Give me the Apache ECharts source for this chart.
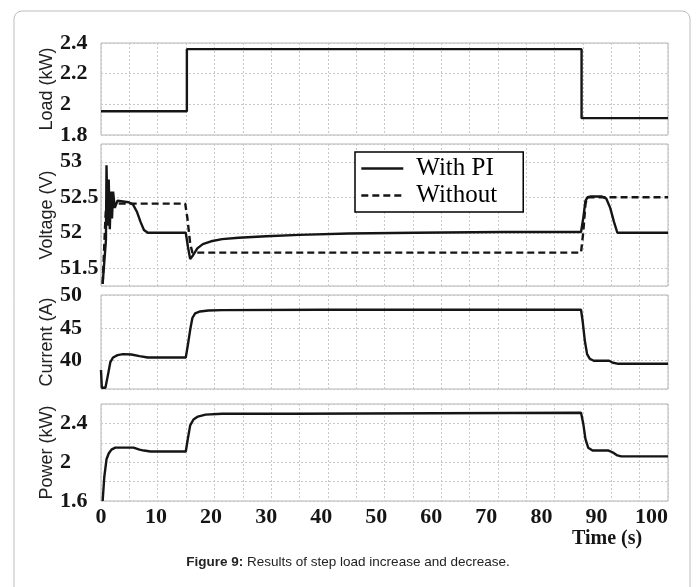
<!DOCTYPE html>
<html>
<head>
<meta charset="utf-8">
<script src="https://cdn.jsdelivr.net/npm/echarts@6/dist/echarts.min.js"></script>
<style>
  html, body { margin: 0; padding: 0; background: #fff; }
  #chart { width: 696px; height: 587px; }
</style>
</head>
<body>
<div id="chart"></div>
<script>
// time axis
const xTickLabels = [0, 10, 20, 30, 40, 50, 60, 70, 80, 90, 100];
// power axis shows only these
const powTickLabels = [1.6, 2, 2.4];

// load (kW), step changes
const tLoad = [0, 15.6, 87.3, 103];
const load = [1.955, 2.36, 1.91, 1.91];

// voltage (V), with PI
const tVWith = [0.3, 0.9, 1.0, 1.2, 1.4, 1.6, 1.8, 2.0, 2.2, 2.5, 3, 4, 5, 5.8, 6.5, 7.2, 7.8, 8.5, 15.4, 15.8, 16.2, 16.7, 17.5, 18.5, 20, 22, 25, 30, 36, 45, 57, 73, 87.2, 87.6, 88.0, 88.4, 89, 91, 91.8, 92.5, 93.2, 93.8, 103];
const vWith = [51.28, 51.9, 52.95, 52.1, 52.75, 52.05, 52.58, 52.2, 52.58, 52.35, 52.45, 52.44, 52.43, 52.4, 52.3, 52.15, 52.04, 52.0, 52.0, 51.8, 51.63, 51.68, 51.78, 51.84, 51.88, 51.91, 51.93, 51.95, 51.97, 51.99, 52.0, 52.01, 52.01, 52.2, 52.45, 52.5, 52.51, 52.51, 52.48, 52.35, 52.15, 52.0, 52.0];

// voltage (V), without PI
const tVWithout = [0.3, 0.8, 1.0, 1.5, 2, 15.3, 15.7, 16.2, 16.6, 87.2, 87.6, 88.0, 88.3, 103];
const vWithout = [51.28, 52.2, 52.45, 52.38, 52.41, 52.41, 52.2, 51.85, 51.72, 51.72, 52.0, 52.4, 52.5, 52.5];

// current (A)
const tCur = [0, 0.15, 0.8, 1.3, 1.7, 2.2, 3, 4, 5.5, 7, 8.5, 15.4, 15.8, 16.2, 16.6, 17.1, 18, 19.5, 22, 40, 87.2, 87.5, 87.9, 88.3, 88.8, 89.5, 92.3, 93, 93.8, 103];
const cur = [38.6, 35.9, 35.9, 38, 39.8, 40.5, 40.85, 41.0, 40.95, 40.7, 40.5, 40.5, 42.5, 44.7, 46.5, 47.2, 47.5, 47.65, 47.7, 47.75, 47.75, 46, 43, 41, 40.3, 40.0, 40.0, 39.7, 39.55, 39.55];

// power (kW)
const tPow = [0.3, 0.6, 1.0, 1.4, 1.9, 2.6, 4, 5.9, 7, 7.8, 9, 15.4, 15.8, 16.2, 16.8, 17.6, 19, 22, 35, 87.2, 87.6, 88.0, 88.5, 89.3, 92.2, 93, 93.8, 94.5, 103];
const pow = [1.6, 1.85, 2.03, 2.09, 2.13, 2.15, 2.15, 2.15, 2.13, 2.12, 2.11, 2.11, 2.25, 2.38, 2.44, 2.47, 2.49, 2.5, 2.5, 2.51, 2.4, 2.24, 2.15, 2.12, 2.12, 2.1, 2.07, 2.06, 2.06];

const pairs = (t, v) => t.map((x, i) => [x, v[i]]);

const ink = '#151515';
const gridCol = '#c8c8c8';
const serif = 'Liberation Serif';

const grids = [
  { left: 101, right: 28, top: 43, height: 92 },
  { left: 101, right: 28, top: 144, height: 142 },
  { left: 101, right: 28, top: 295, height: 94 },
  { left: 101, right: 28, top: 404, height: 97 },
].map(g => Object.assign(g, { show: true, borderColor: '#b5b5b5', borderWidth: 1 }));

// vertical grid lines: 20 equal divisions of the time span
const gridX = i => ({
  type: 'value', gridIndex: i, min: 0, max: 103, interval: 5.15,
  axisLine: { show: false }, axisTick: { show: false }, axisLabel: { show: false },
  splitLine: { show: true, lineStyle: { color: gridCol, type: [2, 2], width: 1 } },
});

const yBase = (i, name, extra, labelExtra) => Object.assign({
  type: 'value', gridIndex: i, name,
  nameLocation: 'middle', nameRotate: 90, nameGap: 45, nameMoveOverlap: false,
  nameTextStyle: { fontFamily: 'Liberation Sans', fontSize: 18, color: '#222' },
  axisLine: { show: false }, axisTick: { show: false },
  axisLabel: Object.assign({ fontFamily: serif, fontWeight: 'bold', fontSize: 22, color: ink,
    align: 'left', margin: 41, hideOverlap: false }, labelExtra),
  splitLine: { show: true, lineStyle: { color: gridCol, type: [2, 2], width: 1 } },
}, extra);

const lineSeries = (name, xi, data, dashed) => ({
  type: 'line', name, xAxisIndex: xi, yAxisIndex: xi, data,
  symbol: 'none', silent: true, animation: false,
  lineStyle: { color: ink, width: 2.4, type: dashed ? [7, 4] : 'solid' },
  itemStyle: { color: ink },
});

const option = {
  backgroundColor: '#fff',
  animation: false,
  grid: grids,
  xAxis: [gridX(0), gridX(1), gridX(2), gridX(3), {
    type: 'value', gridIndex: 3, position: 'bottom', min: 0, max: 103, interval: 10,
    axisLine: { show: false }, axisTick: { show: false }, splitLine: { show: false },
    axisLabel: { fontFamily: serif, fontWeight: 'bold', fontSize: 22, color: ink, margin: 5,
      showMaxLabel: false, formatter: v => xTickLabels.includes(v) ? String(v) : '' },
  }],
  yAxis: [
    yBase(0, 'Load (kW)', { min: 1.8, max: 2.4, interval: 0.2 }),
    yBase(1, 'Voltage (V)', { min: 51.25, max: 53.25, splitNumber: 4 },
      { showMinLabel: false, showMaxLabel: false }),
    yBase(2, 'Current (A)', { min: 35.7, max: 50, splitNumber: 3 },
      { showMinLabel: false }),
    yBase(3, 'Power (kW)', { min: 1.6, max: 2.6, interval: 0.2 },
      { formatter: v => powTickLabels.some(p => Math.abs(p - v) < 1e-6) ? String(+v.toFixed(1)) : '' }),
  ],
  legend: {
    data: ['With PI', 'Without'],
    orient: 'vertical', left: 355, top: 152,
    backgroundColor: '#fff', borderColor: '#000', borderWidth: 1.5, borderRadius: 0,
    padding: [4, 26, 4, 5], itemGap: 2, itemWidth: 42, itemHeight: 24,
    itemStyle: { opacity: 0 },
    lineStyle: { width: 2.6 },
    textStyle: { fontFamily: serif, fontSize: 25, color: '#000', padding: [0, 0, 0, 8] },
  },
  graphic: [
    { type: 'rect', shape: { x: 14, y: 11, width: 676, height: 620, r: 8 },
      style: { fill: 'none', stroke: '#bdbdbd', lineWidth: 1 }, silent: true, z: -1 },
    { type: 'text', left: 572, top: 529,
      style: { text: 'Time (s)', font: 'bold 20px "Liberation Serif"', fill: ink } },
    { type: 'text', left: 'center', top: 555,
      style: { text: '{b|Figure 9:} Results of step load increase and decrease.',
        font: '13.5px "Liberation Sans"', fill: '#222',
        rich: { b: { font: 'bold 13.5px "Liberation Sans"', fill: '#222' } } } },
  ],
  series: [
    Object.assign(lineSeries('Load', 0, pairs(tLoad, load), false), { step: 'end' }),
    lineSeries('With PI', 1, pairs(tVWith, vWith), false),
    lineSeries('Without', 1, pairs(tVWithout, vWithout), true),
    lineSeries('Current', 2, pairs(tCur, cur), false),
    lineSeries('Power', 3, pairs(tPow, pow), false),
  ],
};

const chart = echarts.init(document.getElementById('chart'), null, { renderer: 'canvas' });
chart.setOption(option);
</script>
</body>
</html>
